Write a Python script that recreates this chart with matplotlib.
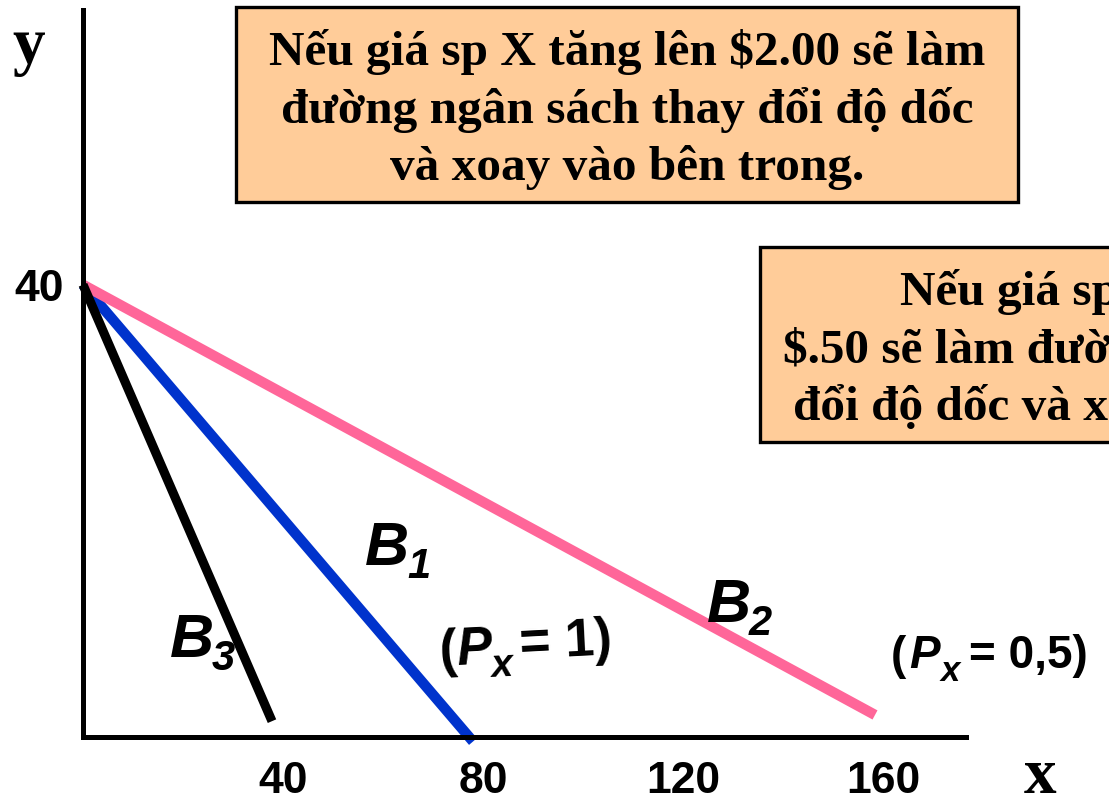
import matplotlib
matplotlib.use("Agg")
import matplotlib.pyplot as plt
from matplotlib import font_manager
from matplotlib.patches import Rectangle

# ---------------- data ----------------
budget_names = ["B1", "B2", "B3"]
start_x = [0, 0, 0]
start_y = [40, 40, 40]
end_x = [78, 158.4, 37.8]
end_y = [-0.4, 1.95, 1.4]

x_ticks = [40, 80, 120, 160]
x_tick_labels = ["40", "80", "120", "160"]
y_ticks = [40]
y_tick_labels = ["40"]

box1_lines = ["Nếu giá sp X tăng lên $2.00 sẽ làm",
              "đường ngân sách thay đổi độ dốc",
              "và xoay vào bên trong."]
box2_lines = ["Nếu giá sp X giảm còn",
              "$.50 sẽ làm đường ngân sách thay",
              "đổi độ dốc và xoay ra bên ngoài."]

price_labels = ["1", "0,5"]

# ---------------- fonts ----------------
names = {f.name for f in font_manager.fontManager.ttflist}
if "Liberation Sans Narrow" in names:
    SANS = "Liberation Sans Narrow"
    sc = 1.12
else:
    SANS = "Liberation Sans"
    sc = 1.0
SERIF = "Liberation Serif"

W, H = 1109, 809


def fx(x):
    return x / W


def fy(y):
    return 1 - y / H


fig = plt.figure(figsize=(W / 100, H / 100), dpi=100)
fig.patch.set_facecolor("white")
ax = fig.add_axes([fx(83), fy(737), (966 - 83) / W, (737 - 10) / H])
ax.set_xlim(0, 176.6)
ax.set_ylim(0, 64.3)
ax.patch.set_alpha(0)
for s in ["top", "right"]:
    ax.spines[s].set_visible(False)
for s in ["left", "bottom"]:
    ax.spines[s].set_linewidth(3.6)
    ax.spines[s].set_color("black")

ax.set_xticks(x_ticks)
ax.set_xticklabels(x_tick_labels)
ax.set_yticks(y_ticks)
ax.set_yticklabels(y_tick_labels)
ax.tick_params(axis="both", length=0)
ax.tick_params(axis="x", pad=17)
ax.tick_params(axis="y", pad=14)
for lab in ax.get_xticklabels() + ax.get_yticklabels():
    lab.set_fontfamily(SANS)
    lab.set_fontweight("bold")
    lab.set_fontsize(32 * sc)
    lab.set_color("black")

line_colors = ["#0033CC", "#FF6699", "#000000"]
line_widths = [7.5, 7.5, 6.6]
for i in range(len(budget_names)):
    ax.plot([start_x[i], end_x[i]], [start_y[i], end_y[i]],
            color=line_colors[i], lw=line_widths[i],
            solid_capstyle="butt", clip_on=False, zorder=2)

# axis letters
fig.text(fx(29), fy(63), "y", fontfamily=SERIF, fontweight="bold",
         fontsize=47, ha="center", va="baseline")
fig.text(fx(1040), fy(793), "x", fontfamily=SERIF, fontweight="bold",
         fontsize=47, ha="center", va="baseline")


def sans(x, y, s, size, italic=False, rot=0):
    fig.text(fx(x), fy(y), s, fontfamily=SANS, fontweight="bold",
             fontstyle="italic" if italic else "normal",
             fontsize=size * sc, ha="left", va="baseline",
             rotation=rot, rotation_mode="anchor", color="black")


# budget line labels: "B" + subscript digit
label_pos = {"B1": (365, 565), "B2": (707, 622), "B3": (170, 657)}
for name in budget_names:
    bx, by = label_pos[name]
    sans(bx, by, name[0], 44, italic=True)
    sans(bx + 42, by + 13, name[1], 30, italic=True)

# price labels
# (Px = 1)  slightly tilted
sans(440, 667, "(", 38, rot=3)
sans(457, 665, "P", 38, italic=True, rot=3)
sans(492, 677, "x", 28, italic=True, rot=3)
sans(520, 659, "= " + price_labels[0] + ")", 38, rot=3)
# (Px = 0,5)
sans(891, 669, "(", 33)
sans(909, 668, "P", 33, italic=True)
sans(941, 681, "x", 25, italic=True)
sans(969, 668, "= " + price_labels[1] + ")", 33)

# text boxes
box_fc = "#FFCC99"
r1 = Rectangle((fx(236), fy(202)), (1018 - 236) / W, (202 - 7) / H,
               transform=fig.transFigure, facecolor=box_fc, edgecolor="black",
               lw=2.4, zorder=5)
fig.add_artist(r1)
r2 = Rectangle((fx(760), fy(442)), (1200 - 760) / W, (442 - 247) / H,
               transform=fig.transFigure, facecolor=box_fc, edgecolor="black",
               lw=2.4, zorder=5, clip_on=False)
fig.add_artist(r2)

for line, yb in zip(box1_lines, [65, 123, 180]):
    fig.text(fx(627), fy(yb), line, fontfamily=SERIF, fontweight="bold",
             fontsize=35.5, ha="center", va="baseline", color="black", zorder=6)

for line, xs, yb in zip(box2_lines, [900, 783, 793], [305, 363, 420]):
    fig.text(fx(xs), fy(yb), line, fontfamily=SERIF, fontweight="bold",
             fontsize=35.5, ha="left", va="baseline", color="black", zorder=6)

fig.savefig("out.png", dpi=100)
